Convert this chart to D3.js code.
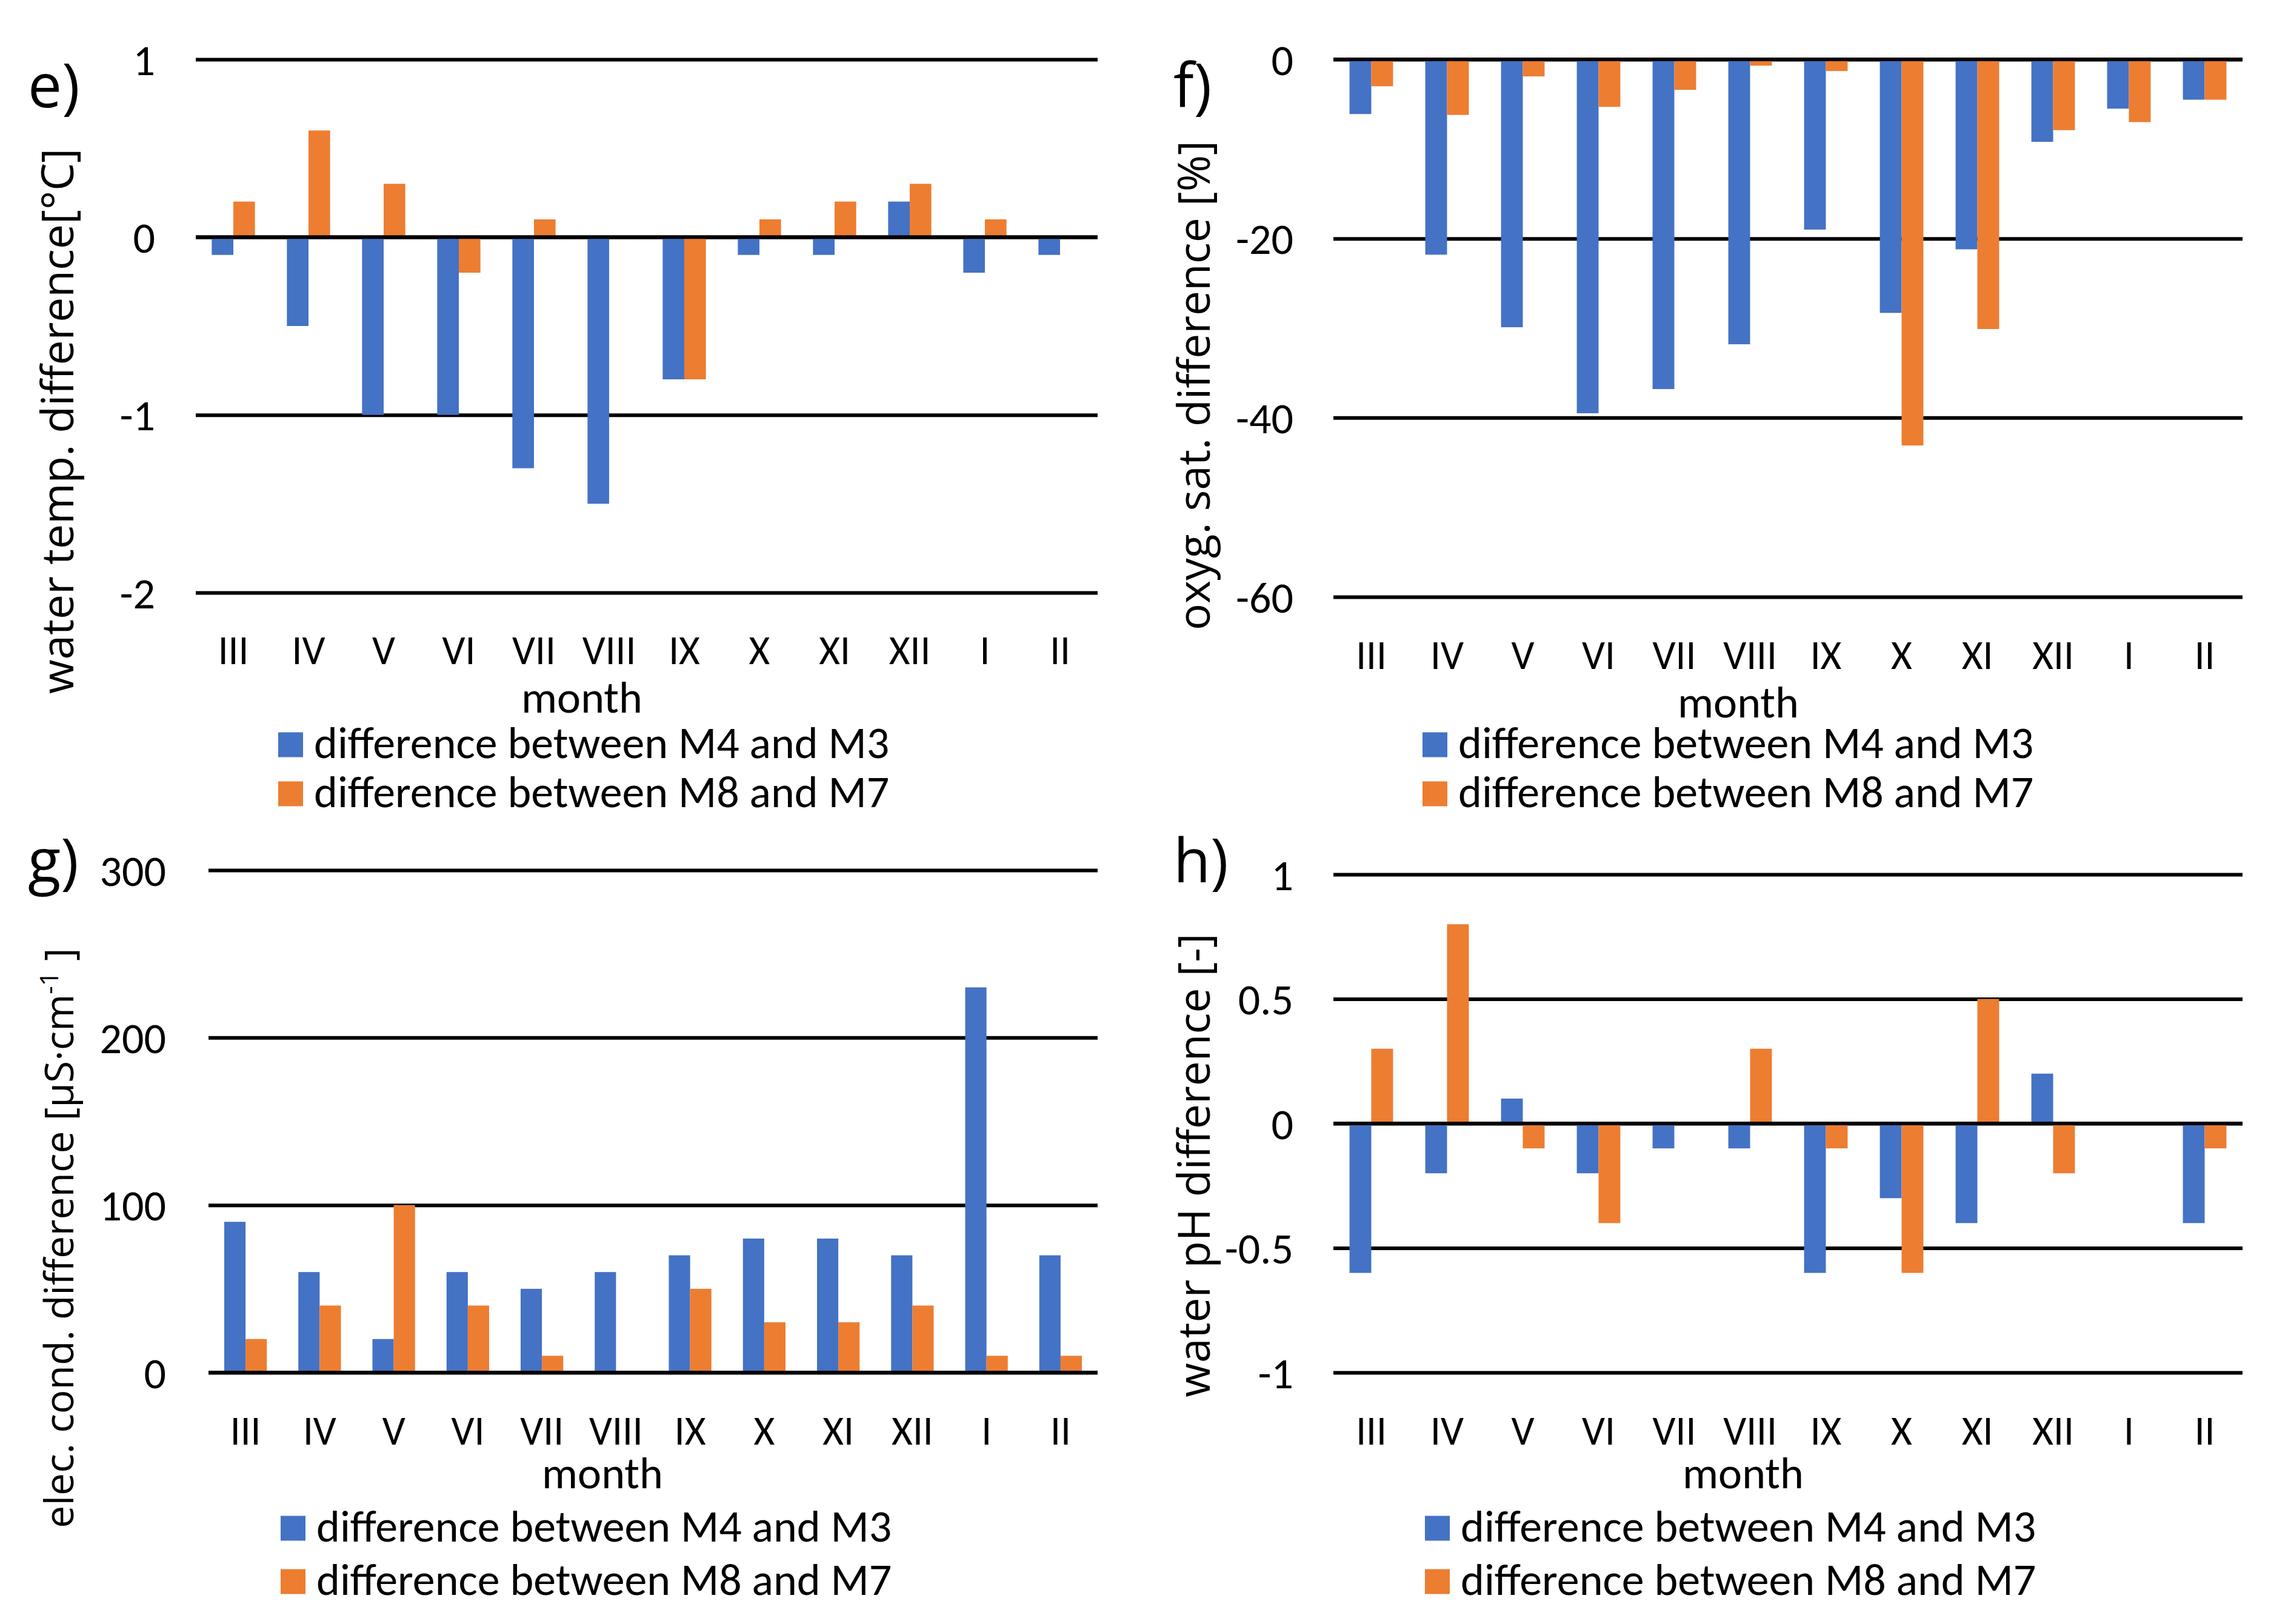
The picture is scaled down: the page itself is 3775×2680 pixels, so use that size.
<!DOCTYPE html>
<html lang="en">
<head>
<meta charset="utf-8">
<title>differences between stations</title>
<style>
  body { margin: 0; background: #fff; }
  svg { display: block; }
  .tick text, .lbl { font-family: Carlito, Lato, sans-serif; fill: #000; }
  .ttl, .plab { font-family: "Open Sans", sans-serif; fill: #000; }
</style>
</head>
<body>
<svg id="chart" width="3775" height="2680"></svg>
<script src="https://cdn.jsdelivr.net/npm/d3@7"></script>
<script>
// months on the x axis
var months = ["III", "IV", "V", "VI", "VII", "VIII", "IX", "X", "XI", "XII", "I", "II"];
var seriesNames = ["difference between M4 and M3", "difference between M8 and M7"];
var colors = ["#4472C4", "#ED7D31"];

// e) water temperature [°C]
var tempM4M3 = [-0.1, -0.5, -1.0, -1.0, -1.3, -1.5, -0.8, -0.1, -0.1, 0.2, -0.2, -0.1];
var tempM8M7 = [0.2, 0.6, 0.3, -0.2, 0.1, 0, -0.8, 0.1, 0.2, 0.3, 0.1, 0];
var tempTicks = [1, 0, -1, -2];

// f) oxygen saturation [%]
var oxyM4M3 = [-6.1, -21.8, -29.9, -39.5, -36.8, -31.8, -19.0, -28.3, -21.2, -9.2, -5.5, -4.5];
var oxyM8M7 = [-3.0, -6.2, -1.9, -5.3, -3.4, -0.7, -1.3, -43.1, -30.1, -7.9, -7.0, -4.5];
var oxyTicks = [0, -20, -40, -60];

// g) electrical conductivity [µS/cm]
var condM4M3 = [90, 60, 20, 60, 50, 60, 70, 80, 80, 70, 230, 70];
var condM8M7 = [20, 40, 100, 40, 10, 0, 50, 30, 30, 40, 10, 10];
var condTicks = [300, 200, 100, 0];

// h) pH
var phM4M3 = [-0.6, -0.2, 0.1, -0.2, -0.1, -0.1, -0.6, -0.3, -0.4, 0.2, 0, -0.4];
var phM8M7 = [0.3, 0.8, -0.1, -0.4, 0, 0.3, -0.1, -0.6, 0.5, -0.2, 0, -0.1];
var phTicks = [1, 0.5, 0, -0.5, -1];

var svg = d3.select("#chart");

var panels = [
  {label: "e)", title: ["water temp. difference[°C]"], titleSize: 73, a: tempM4M3, b: tempM8M7, ticks: tempTicks,
   left: 323, right: 1811, yTop: 98, yBot: 978, tickRight: 256, xTickY: 1096, monthX: 960, monthY: 1176,
   legX: 459, legY: [1229, 1310], titleX: 121, titleY: 695, labX: 46, labY: 177},
  {label: "f)", title: ["oxyg. sat. difference [%]"], titleSize: 73, a: oxyM4M3, b: oxyM8M7, ticks: oxyTicks,
   left: 2200, right: 3700, yTop: 98, yBot: 985, tickRight: 2134, xTickY: 1104, monthX: 2868, monthY: 1184,
   legX: 2347, legY: [1229, 1310], titleX: 1996, titleY: 636, labX: 1936, labY: 177},
  {label: "g)", title: ["elec. cond. difference [µS·cm", "-1", " ]"], titleSize: 66, a: condM4M3, b: condM8M7, ticks: condTicks,
   left: 344, right: 1811, yTop: 1436, yBot: 2265, tickRight: 274, xTickY: 2384, monthX: 994, monthY: 2456,
   legX: 463, legY: [2522, 2610], titleX: 121, titleY: 2043, labX: 46, labY: 1456},
  {label: "h)", title: ["water pH difference [-]"], titleSize: 73, a: phM4M3, b: phM8M7, ticks: phTicks,
   left: 2200, right: 3700, yTop: 1443, yBot: 2265, tickRight: 2134, xTickY: 2384, monthX: 2876, monthY: 2456,
   legX: 2351, legY: [2522, 2610], titleX: 1996, titleY: 1923, labX: 1936, labY: 1456}
];

panels.forEach(function(p) {
  var x0 = d3.scaleBand().domain(months).range([p.left, p.right]).padding(0);
  var x1 = d3.scaleBand().domain([0, 1]).range([0, x0.bandwidth()]).paddingInner(0).paddingOuter(0.74);
  var y = d3.scaleLinear().domain([d3.min(p.ticks), d3.max(p.ticks)]).range([p.yBot, p.yTop]);

  var g = svg.append("g");

  // gridlines + y tick labels
  var yAxis = d3.axisLeft(y).tickValues(p.ticks).tickSize(-(p.right - p.left))
      .tickPadding(p.left - p.tickRight).tickFormat(d3.format(""));
  var ya = g.append("g").attr("transform", "translate(" + p.left + ",0)").call(yAxis);
  ya.select(".domain").remove();
  ya.selectAll(".tick line").attr("stroke", "#000").attr("stroke-width", 6);
  ya.selectAll(".tick text").attr("font-size", 72).attr("dy", "0.35em")
      .text(function(d) { return String(d); });

  // bars
  var rows = months.map(function(m, i) { return {m: m, v: [p.a[i], p.b[i]]}; });
  g.append("g").selectAll("g").data(rows).enter().append("g")
      .attr("transform", function(d) { return "translate(" + x0(d.m) + ",0)"; })
    .selectAll("rect").data(function(d) { return d.v; }).enter().append("rect")
      .attr("x", function(d, i) { return x1(i); })
      .attr("width", x1.bandwidth())
      .attr("y", function(d) { return Math.min(y(d), y(0)); })
      .attr("height", function(d) { return Math.abs(y(d) - y(0)); })
      .attr("fill", function(d, i) { return colors[i]; });

  // zero line on top of the bars
  g.append("line").attr("x1", p.left).attr("x2", p.right)
      .attr("y1", y(0)).attr("y2", y(0)).attr("stroke", "#000").attr("stroke-width", 6);

  // month labels
  var xa = g.append("g").call(d3.axisBottom(x0).tickSize(0));
  xa.select(".domain").remove();
  xa.selectAll(".tick text").attr("font-size", 67).attr("y", p.xTickY).attr("dy", 0);

  g.append("text").attr("class", "lbl").attr("x", p.monthX).attr("y", p.monthY)
      .attr("text-anchor", "middle").attr("font-size", 74).text("month");

  // legend
  seriesNames.forEach(function(name, i) {
    g.append("rect").attr("x", p.legX).attr("y", p.legY[i] - 20.5)
        .attr("width", 41).attr("height", 41).attr("fill", colors[i]);
    g.append("text").attr("class", "lbl").attr("x", p.legX + 59).attr("y", p.legY[i] + 22)
        .attr("font-size", 74).text(name);
  });

  // y axis title
  var t = g.append("text").attr("class", "ttl").attr("font-size", p.titleSize)
      .attr("text-anchor", "middle")
      .attr("transform", "translate(" + p.titleX + "," + p.titleY + ") rotate(-90)");
  t.append("tspan").text(p.title[0]);
  if (p.title.length > 1) {
    t.append("tspan").attr("font-size", 42).attr("dy", -25).text(p.title[1]);
    t.append("tspan").attr("dy", 25).text(p.title[2]);
  }

  // panel letter
  g.append("text").attr("class", "plab").attr("x", p.labX).attr("y", p.labY)
      .attr("font-size", 100).text(p.label);
});
</script>
</body>
</html>
